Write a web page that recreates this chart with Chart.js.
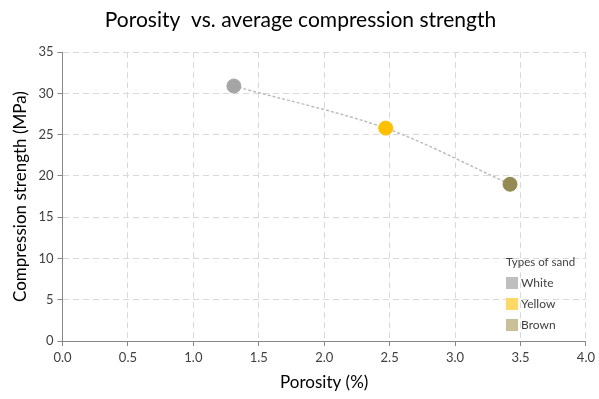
<!DOCTYPE html>
<html>
<head>
<meta charset="utf-8">
<script src="https://cdn.jsdelivr.net/npm/chart.js@4"></script>
<style>
  body { margin: 0; background: #fff; }
</style>
</head>
<body>
<canvas id="chart" width="599" height="399"></canvas>
<script>
// data
const sandTypes = ['White', 'Yellow', 'Brown'];
const porosity = [1.31, 2.47, 3.42];
const strength = [30.9, 25.8, 19.0];
const pointColors = ['#A5A5A5', '#FFC000', '#948A54'];
const legendColors = ['#BFBFBF', '#FFD966', '#C9BF99'];

const FONT = 'Lato, "Open Sans", sans-serif';

const datasets = sandTypes.map((name, i) => ({
  type: 'scatter',
  label: name,
  data: [{ x: porosity[i], y: strength[i] }],
  backgroundColor: pointColors[i],
  borderColor: pointColors[i],
  pointRadius: 7,
  pointHoverRadius: 7,
  order: 1
}));

// trend line through the three points
datasets.push({
  type: 'line',
  label: 'trend',
  data: porosity.map((x, i) => ({ x: x, y: strength[i] })),
  borderColor: '#BDBDBD',
  borderWidth: 1.5,
  borderDash: [3, 2],
  pointRadius: 0,
  tension: 0.3,
  fill: false,
  order: 2
});

// small legend inside the plot area, like the original
const insideLegend = {
  id: 'insideLegend',
  afterDraw(chart) {
    const ctx = chart.ctx;
    ctx.save();
    ctx.textBaseline = 'middle';
    ctx.font = '11.5px ' + FONT;
    ctx.fillStyle = '#404040';
    ctx.fillText('Types of sand', 506, 262);
    ctx.font = '12px ' + FONT;
    sandTypes.forEach((name, i) => {
      const y = 283 + i * 21;
      ctx.fillStyle = legendColors[i];
      ctx.fillRect(506, y - 6, 12, 12);
      ctx.fillStyle = '#404040';
      ctx.fillText(name, 521, y);
    });
    ctx.restore();
  }
};

new Chart(document.getElementById('chart'), {
  type: 'scatter',
  data: { datasets: datasets },
  options: {
    responsive: false,
    animation: false,
    layout: { padding: { left: 6, right: 4, top: 4, bottom: 2 } },
    plugins: {
      legend: { display: false },
      tooltip: { enabled: false },
      title: {
        display: true,
        text: 'Porosity  vs. average compression strength',
        color: '#000',
        font: { family: FONT, size: 21, weight: 'normal' },
        padding: { top: 4, bottom: 19 }
      }
    },
    scales: {
      x: {
        type: 'linear',
        min: 0,
        max: 4,
        ticks: {
          stepSize: 0.5,
          color: '#404040',
          font: { family: FONT, size: 13 },
          callback: v => v.toFixed(1),
          padding: 4
        },
        grid: { color: '#D9D9D9', tickColor: '#888', tickLength: 5 },
        border: { display: true, color: '#888', width: 1, dash: [6, 4] },
        title: {
          display: true,
          text: 'Porosity (%)',
          color: '#000',
          font: { family: FONT, size: 17 },
          padding: { top: 3 }
        }
      },
      y: {
        min: 0,
        max: 35,
        ticks: {
          stepSize: 5,
          color: '#404040',
          font: { family: FONT, size: 13 },
          padding: 4
        },
        grid: { color: '#D9D9D9', tickColor: '#888', tickLength: 5 },
        border: { display: true, color: '#888', width: 1, dash: [6, 4] },
        title: {
          display: true,
          text: 'Compression strength (MPa)',
          color: '#000',
          font: { family: FONT, size: 17 },
          padding: { bottom: 4 }
        }
      }
    }
  },
  plugins: [insideLegend]
});
</script>
</body>
</html>
